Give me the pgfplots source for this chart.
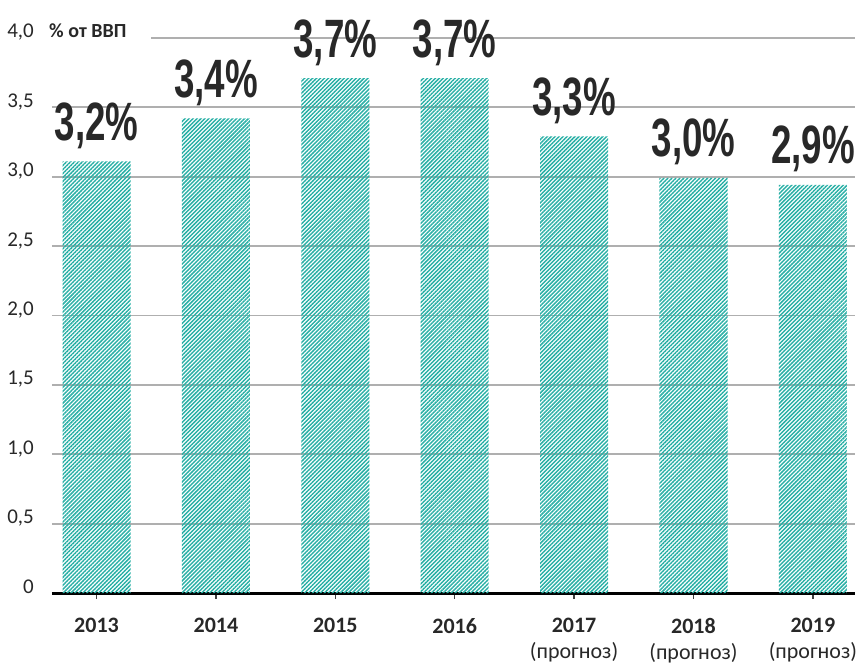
\documentclass[border=0pt]{standalone}
\usepackage{fontspec}
\setmainfont{Carlito}
\newfontfamily\valfont{Liberation Sans}
\usepackage{graphicx}
\usepackage{pgfplots}
\pgfplotsset{compat=1.18}
\usetikzlibrary{patterns.meta}
\definecolor{tealbar}{RGB}{40,175,165}
\definecolor{gridgray}{RGB}{175,175,175}
\definecolor{txt}{RGB}{40,40,40}
\begin{document}
\begin{tikzpicture}
\path[use as bounding box] (-52pt,-71pt) rectangle (807pt,593pt);
\begin{axis}[
  at={(0pt,0pt)}, anchor=south west,
  scale only axis, width=803pt, height=555.2pt,
  xmin=-0.373, xmax=6.353, ymin=0, ymax=4,
  axis x line*=bottom, axis y line*=left,
  y axis line style={draw=none},
  x axis line style={black, line width=3pt, -},
  ytick={0,0.5,1,1.5,2,2.5,3,3.5,4},
  yticklabels={0,{0,5},{1,0},{1,5},{2,0},{2,5},{3,0},{3,5},{4,0}},
  ymajorgrids, grid style={gridgray, line width=1.8pt},
  ytick style={draw=none},
  yticklabel style={anchor=base east, inner sep=0pt, xshift=-12pt, text=txt, font=\fontsize{21}{21}\selectfont},
  xtick={0,1,2,3,4,5,6},
  xticklabels={{\textbf{2013}\\\mbox{}},{\textbf{2014}\\\mbox{}},{\textbf{2015}\\\mbox{}},{\textbf{2016}\\\mbox{}},{\textbf{2017}\\(прогноз)},{\textbf{2018}\\(прогноз)},{\textbf{2019}\\(прогноз)}},
  xticklabel style={anchor=north, align=center, inner sep=0pt, yshift=-19pt, text=txt, font=\fontsize{22}{26}\selectfont},
  tick align=outside, major tick length=6pt,
  xtick style={color=darkgray, line width=1.5pt},
  point meta=explicit symbolic,
  nodes near coords={\scalebox{0.68}[1]{\pgfplotspointmeta\%}},
  every node near coord/.append style={anchor=base, yshift=21pt, inner sep=0pt, text=txt, font=\valfont\bfseries\fontsize{54}{54}\selectfont},
]
\addplot[ybar, bar width=0.57, draw=none, pattern={Lines[angle=45,distance=2.8pt,line width=1.45pt]}, pattern color=tealbar] table[x=x, y=y, meta=lab] {
x y lab
0 3.11 3,2
1 3.42 3,4
2 3.71 3,7
3 3.71 3,7
4 3.29 3,3
5 2.99 3,0
6 2.94 2,9
};
\end{axis}
\fill[white] (-3pt,550pt) rectangle (99pt,562pt);
\node[anchor=base west, inner sep=0pt, text=txt, font=\bfseries\fontsize{20}{20}\selectfont] at (-3pt,555pt) {\% от ВВП};
\end{tikzpicture}
\end{document}
